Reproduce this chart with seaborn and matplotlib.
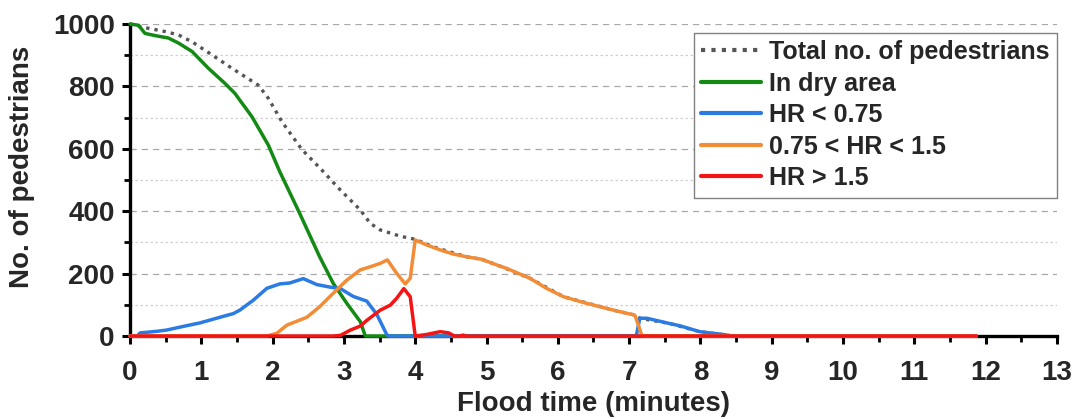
import matplotlib
matplotlib.use("Agg")
import matplotlib.pyplot as plt
from matplotlib.ticker import MultipleLocator
import seaborn as sns
import pandas as pd

# ---- data ----
total_t = [0, 0.13, 0.49, 0.68, 0.87, 1.15, 1.43, 1.80, 1.94, 2.13, 2.41, 2.69, 2.95, 3.23, 3.37,
           3.51, 3.79, 4.0, 4.25, 4.51, 4.72, 4.93, 5.19, 5.61, 6.08, 6.78, 7.08, 7.15, 7.57, 7.99, 8.45]
total_v = [1000, 992, 976, 965, 943, 901, 858, 804, 762, 687, 598, 532, 468, 404, 361,
           340, 320, 310, 286, 268, 254, 246, 224, 185, 126, 83, 67, 57, 40, 14, 0]

dry_t = [0, 0.12, 0.21, 0.35, 0.54, 0.68, 0.87, 1.10, 1.33, 1.47, 1.71, 1.94, 2.10, 2.38, 2.66,
         2.85, 3.04, 3.23, 3.30, 11.87]
dry_v = [1000, 996, 970, 963, 955, 939, 912, 858, 810, 778, 703, 612, 527, 393, 254,
         169, 105, 46, 0, 0]

low_t = [0, 0.10, 0.14, 0.37, 0.51, 0.79, 0.98, 1.26, 1.45, 1.54, 1.73, 1.92, 2.10, 2.24, 2.43,
         2.62, 2.80, 2.95, 3.13, 3.32, 3.46, 3.60, 3.63, 7.10, 7.15, 7.25, 7.57, 7.71, 7.99, 8.32,
         8.45, 11.87]
low_v = [0, 0, 10, 15, 19, 33, 42, 60, 72, 83, 115, 153, 167, 170, 184,
         165, 157, 152, 127, 112, 70, 5, 0, 0, 57, 57, 40, 33, 14, 5,
         0, 0]

mid_t = [0, 1.92, 2.06, 2.2, 2.48, 2.66, 2.85, 3.04, 3.23, 3.37, 3.51, 3.61, 3.74, 3.86, 3.93,
         4.0, 4.16, 4.35, 4.53, 4.72, 4.93, 5.19, 5.28, 5.61, 5.84, 6.08, 6.40, 6.78, 7.08, 7.13,
         7.18, 11.87]
mid_v = [0, 0, 9, 35, 60, 94, 137, 179, 212, 222, 233, 244, 201, 167, 185,
         308, 292, 276, 263, 254, 246, 224, 217, 185, 153, 126, 105, 83, 67, 35,
         0, 0]

high_t = [0, 2.85, 2.95, 3.09, 3.23, 3.32, 3.51, 3.65, 3.74, 3.84, 3.93, 4.0, 4.16, 4.35, 4.47,
          4.55, 4.62, 4.67, 4.72, 11.87]
high_v = [0, 0, 2, 19, 32, 50, 83, 99, 121, 152, 126, 0, 5, 14, 10,
          0, 0, 3, 0, 0]

labels = ["Total no. of pedestrians", "In dry area", "HR < 0.75", "0.75 < HR < 1.5", "HR > 1.5"]
colors = ["#555555", "#138A13", "#2B7BE4", "#F28C36", "#F51414"]
xticks = list(range(0, 14))
yticks = list(range(0, 1001, 200))

# ---- style ----
sns.set_style("ticks")
plt.rcParams["font.family"] = ["Liberation Sans", "DejaVu Sans"]
plt.rcParams["font.weight"] = "bold"

fig = plt.figure(figsize=(10.77, 4.19), dpi=100)
ax = fig.add_axes([0.1207, 0.198, 0.8607, 0.7447])

series = [(total_t, total_v), (dry_t, dry_v), (low_t, low_v), (mid_t, mid_v), (high_t, high_v)]
for i, ((t, v), lab, col) in enumerate(zip(series, labels, colors)):
    df = pd.DataFrame({"t": t, "v": v})
    if i == 0:
        sns.lineplot(data=df, x="t", y="v", ax=ax, color=col, lw=2.4, label=lab,
                     linestyle=(0, (1, 1.5)), sort=False, zorder=2.8, clip_on=False)
    else:
        sns.lineplot(data=df, x="t", y="v", ax=ax, color=col, lw=2.5, label=lab,
                     sort=False, zorder=3 + i * 0.1, clip_on=False)

ax.set_xlim(0, 13)
ax.set_ylim(0, 1000)
ax.set_xticks(xticks)
ax.set_yticks(yticks)
ax.xaxis.set_minor_locator(MultipleLocator(0.5))
ax.yaxis.set_minor_locator(MultipleLocator(100))

ax.yaxis.grid(True, which="major", color="#a8a8a8", lw=0.9, linestyle=(0, (5, 4)))
ax.yaxis.grid(True, which="minor", color="#d0d0d0", lw=0.9, linestyle=(0, (2, 2)))
ax.xaxis.grid(False)
ax.set_axisbelow(True)

sns.despine(ax=ax)
for s in ["left", "bottom"]:
    ax.spines[s].set_linewidth(2.4)
    ax.spines[s].set_color("black")

ax.tick_params(axis="both", which="major", direction="out", length=6, width=2.2,
               labelsize=20, color="black", pad=5)
ax.tick_params(axis="x", which="major", pad=11)
ax.tick_params(axis="both", which="minor", direction="out", length=4, width=2.0, color="black")
for lbl in ax.get_xticklabels() + ax.get_yticklabels():
    lbl.set_fontweight("bold")

ax.set_xlabel("Flood time (minutes)", fontsize=20, fontweight="bold", labelpad=4)
ax.set_ylabel("No. of pedestrians", fontsize=20, fontweight="bold", labelpad=8)
ax.yaxis.set_label_coords(-0.1025, 0.542)

leg = ax.legend(loc="upper right", bbox_to_anchor=(1.0, 0.972), borderaxespad=0,
                fontsize=18, frameon=True, fancybox=False, framealpha=1,
                handlelength=2.4, handletextpad=0.3, labelspacing=0.3, borderpad=0.3)
leg.get_frame().set_edgecolor("#808080")
leg.get_frame().set_linewidth(1.0)
for txt in leg.get_texts():
    txt.set_fontweight("bold")
for h in leg.get_lines():
    h.set_linewidth(3.0)

fig.savefig("out.png", dpi=100)
